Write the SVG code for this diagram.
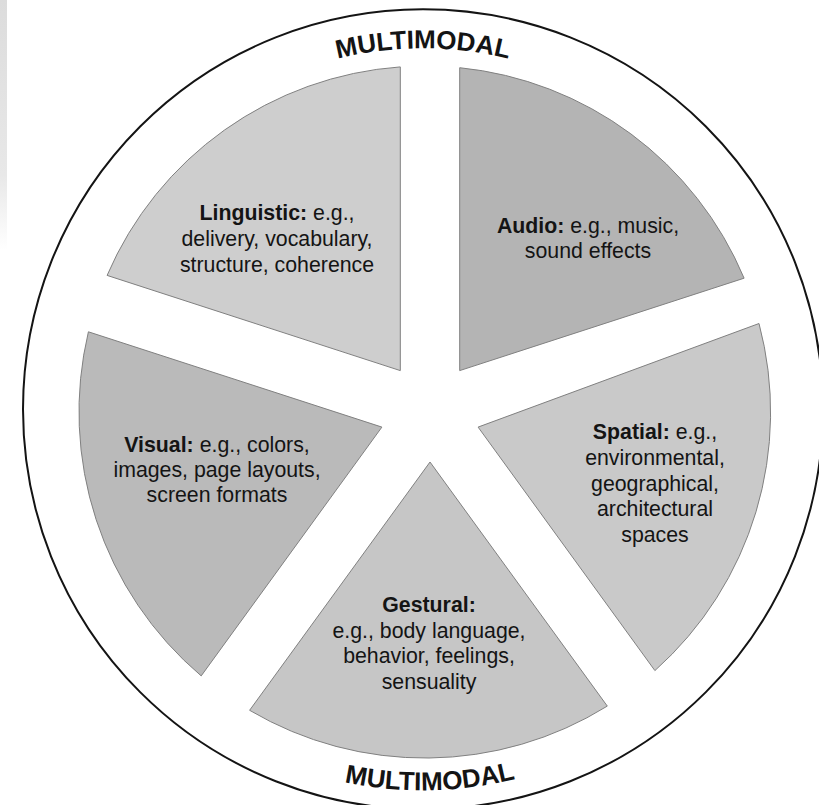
<svg xmlns="http://www.w3.org/2000/svg" width="819" height="805" viewBox="0 0 819 805">
  <defs>
    <style>
      .sector { stroke: #808080; stroke-width: 1; }
      .lbl { font-family: "Liberation Sans", Arial, Helvetica, sans-serif; font-size: 21.3px; fill: #141414; text-anchor: middle; }
      .b { font-weight: bold; }
      .ring { font-family: "Liberation Sans", Arial, Helvetica, sans-serif; font-size: 26px; font-weight: bold; fill: #141414; }
    </style>
    <linearGradient id="scan" x1="0" y1="0" x2="0" y2="1">
      <stop offset="0" stop-color="#dcdcdc"/>
      <stop offset="0.7" stop-color="#e8e8e8"/>
      <stop offset="1" stop-color="#ffffff"/>
    </linearGradient>
    <path id="topArc" d="M 62 409.3 A 361 361 0 0 1 784 409.3"/>
    <path id="botArc" d="M 42 409.3 A 381 381 0 0 0 804 409.3"/>
  </defs>
  <rect width="819" height="805" fill="#ffffff"/>
  <rect x="0" y="0" width="7" height="250" fill="url(#scan)"/>

  <g id="outer-ring">
    <circle cx="423" cy="409.3" r="400" fill="#ffffff" stroke="#141414" stroke-width="2"/>
    <text class="ring"><textPath href="#topArc" startOffset="50%" text-anchor="middle">MULTIMODAL</textPath></text>
    <text class="ring"><textPath href="#botArc" startOffset="50.6%" text-anchor="middle">MULTIMODAL</textPath></text>
  </g>

  <g id="linguistic">
    <path class="sector" fill="#cecece" d="M 400.3 370.6 L 107.1 275.4 A 346 346 0 0 1 400.3 66.9 Z"/>
    <text class="lbl" x="277" y="220"><tspan class="b">Linguistic:</tspan> e.g.,</text>
    <text class="lbl" x="277" y="246">delivery, vocabulary,</text>
    <text class="lbl" x="277" y="272">structure, coherence</text>
  </g>

  <g id="audio">
    <path class="sector" fill="#b4b4b4" d="M 459.7 370.6 L 459.7 67.7 A 346 346 0 0 1 744.1 278.2 Z"/>
    <text class="lbl" x="588" y="233"><tspan class="b">Audio:</tspan> e.g., music,</text>
    <text class="lbl" x="588" y="258">sound effects</text>
  </g>

  <g id="spatial">
    <path class="sector" fill="#c9c9c9" d="M 478.1 427.1 L 759 323.5 A 346 346 0 0 1 654.9 670.6 Z"/>
    <text class="lbl" x="655" y="439"><tspan class="b">Spatial:</tspan> e.g.,</text>
    <text class="lbl" x="655" y="465">environmental,</text>
    <text class="lbl" x="655" y="490.5">geographical,</text>
    <text class="lbl" x="655" y="516">architectural</text>
    <text class="lbl" x="655" y="541.5">spaces</text>
  </g>

  <g id="gestural">
    <path class="sector" fill="#c6c6c6" d="M 430 462 L 607.3 706.1 A 346 346 0 0 1 249.6 710.3 Z"/>
    <text class="lbl b" x="429" y="612">Gestural:</text>
    <text class="lbl" x="429" y="637.5">e.g., body language,</text>
    <text class="lbl" x="429" y="663">behavior, feelings,</text>
    <text class="lbl" x="429" y="688.5">sensuality</text>
  </g>

  <g id="visual">
    <path class="sector" fill="#bababa" d="M 381.9 427.1 L 201.2 675.9 A 346 346 0 0 1 88.4 331.8 Z"/>
    <text class="lbl" x="217" y="452"><tspan class="b">Visual:</tspan> e.g., colors,</text>
    <text class="lbl" x="217" y="477">images, page layouts,</text>
    <text class="lbl" x="217" y="502">screen formats</text>
  </g>

  <g id="connectors"/>
</svg>
